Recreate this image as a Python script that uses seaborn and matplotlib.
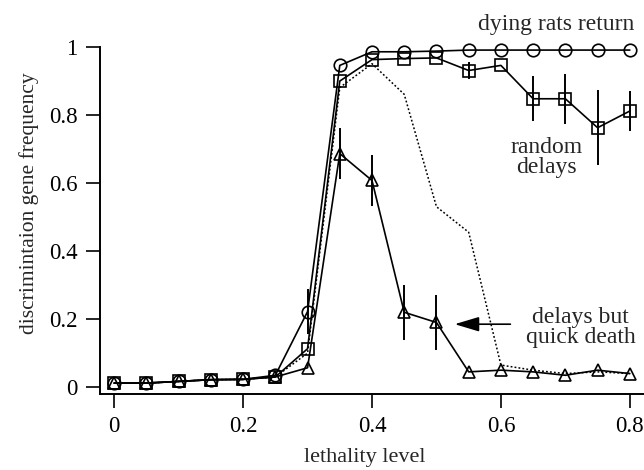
import numpy as np
import pandas as pd
import matplotlib
matplotlib.use("Agg")
import matplotlib.pyplot as plt
import seaborn as sns

# lethality levels
lethality = [0.0, 0.05, 0.1, 0.15, 0.2, 0.25, 0.3, 0.35, 0.4,
             0.45, 0.5, 0.55, 0.6, 0.65, 0.7, 0.75, 0.8]

# dying rats return (circles)
rats_return = [0.012, 0.012, 0.017, 0.022, 0.023, 0.035, 0.222, 0.945, 0.985,
               0.985, 0.987, 0.99, 0.99, 0.99, 0.99, 0.99, 0.99]
rats_return_err = [0, 0, 0, 0, 0, 0, 0.065, 0, 0,
                   0, 0, 0, 0, 0, 0, 0, 0]

# random delays (squares)
random_delays = [0.012, 0.012, 0.017, 0.022, 0.023, 0.03, 0.113, 0.899, 0.962,
                 0.965, 0.967, 0.93, 0.945, 0.847, 0.847, 0.762, 0.811]
random_delays_err = [0, 0, 0, 0, 0, 0, 0, 0, 0,
                     0, 0, 0.025, 0, 0.066, 0.073, 0.11, 0.06]

# delays but quick death (triangles)
quick_death = [0.012, 0.012, 0.017, 0.022, 0.023, 0.03, 0.057, 0.686, 0.607,
               0.22, 0.19, 0.045, 0.05, 0.045, 0.035, 0.05, 0.04]
quick_death_err = [0, 0, 0, 0, 0, 0, 0, 0.075, 0.075,
                   0.08, 0.08, 0, 0, 0, 0, 0, 0]

# no delays (dotted, no markers)
no_delays = [0.012, 0.012, 0.017, 0.022, 0.023, 0.03, 0.1, 0.88, 0.95,
             0.86, 0.53, 0.455, 0.065, 0.05, 0.04, 0.045, 0.04]

sns.set_style("ticks")
plt.rcParams["font.family"] = ["Liberation Serif", "DejaVu Serif"]
plt.rcParams["font.size"] = 15

fig = plt.figure(figsize=(6.44, 4.70), dpi=100)
ax = fig.add_axes([0.1553, 0.1617, 0.8447, 0.739])

series = [
    ("return", rats_return, rats_return_err, "o", 9),
    ("random", random_delays, random_delays_err, "s", 8),
    ("quick", quick_death, quick_death_err, "^", 9),
]

# dotted curve first
sns.lineplot(x=lethality, y=no_delays, ax=ax, color="black", linewidth=1.1,
             linestyle=(0, (1.2, 1.4)), legend=False)

for name, vals, errs, mk, ms in series:
    sns.lineplot(x=lethality, y=vals, ax=ax, color="black", linewidth=1.2,
                 marker=mk, markersize=ms,
                 markerfacecolor="none", markeredgecolor="black",
                 markeredgewidth=1.2, legend=False, clip_on=False)
    errs = np.array(errs)
    m = errs > 0
    ax.errorbar(np.array(lethality)[m], np.array(vals)[m], yerr=errs[m],
                fmt="none", ecolor="black", elinewidth=1.4, capsize=0)

ax.set_xlim(-0.022, 0.822)
ax.set_ylim(-0.02, 1.0)
ax.set_xticks([0, 0.2, 0.4, 0.6, 0.8])
ax.set_xticklabels(["0", "0.2", "0.4", "0.6", "0.8"])
ax.set_yticks([0, 0.2, 0.4, 0.6, 0.8, 1.0])
ax.set_yticklabels(["0", "0.2", "0.4", "0.6", "0.8", "1"])
ax.tick_params(direction="out", length=10, width=1.2, labelsize=16.5,
               colors="black", pad=6)
for s in ["top", "right"]:
    ax.spines[s].set_visible(False)
for s in ["left", "bottom"]:
    ax.spines[s].set_linewidth(1.4)
    ax.spines[s].set_color("black")

ax.set_xlabel("lethality level", fontsize=16)
ax.set_ylabel("discrimintaion gene frequency", fontsize=15.5)
ax.xaxis.set_label_coords(0.487, -0.155)
ax.yaxis.set_label_coords(-0.112, 0.55)

ax.text(0.685, 1.064, "dying rats return", fontsize=17, ha="center",
        va="center", clip_on=False)
ax.text(0.671, 0.674, "random\ndelays", fontsize=17, ha="center",
        va="center", linespacing=0.95)
ax.text(0.724, 0.175, "delays but\nquick death", fontsize=17, ha="center",
        va="center", linespacing=0.95)
ax.annotate("", xy=(0.524, 0.185), xytext=(0.619, 0.185),
            arrowprops=dict(arrowstyle="-|>,head_length=1.0,head_width=0.3",
                            color="black", lw=1.2))

fig.savefig("out.png", dpi=100)
